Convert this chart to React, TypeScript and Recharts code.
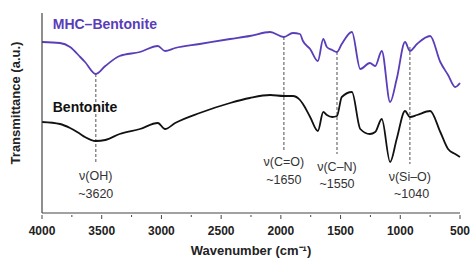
import {
  LineChart,
  Line,
  XAxis,
  YAxis,
  ReferenceLine,
  ReferenceDot,
} from "recharts";

const wavenumber = [
  4000, 3850, 3765, 3680, 3640, 3550, 3470, 3350, 3180, 3030, 2970, 2885,
  2680, 2425, 2260, 2090, 1975, 1900, 1840, 1815, 1755, 1690, 1645, 1615,
  1570, 1530, 1490, 1405, 1335, 1255, 1210, 1155, 1085, 1030, 960, 920, 860,
  750, 665, 600, 540, 500,
];

// transmittance (a.u.)
const mhcBentonite = [
  171, 170, 166, 156, 151, 139, 147, 157, 161, 167, 162, 165, 169, 174, 177,
  181, 176, 180, 179, 172, 164, 152, 174, 166, 163, 161, 169, 181, 144, 150,
  147, 162, 111, 134, 171, 162, 169, 177, 151, 138, 126, 130,
];

const bentonite = [
  91, 89, 85, 79, 76, 72, 73, 79, 84, 90, 84, 90, 100, 110, 115, 118, 117,
  117, 113, 109, 96, 82, 101, 98, 96, 97, 116, 121, 84, 79, 81, 94, 51, 74,
  102, 96, 98, 102, 81, 64, 59, 56,
];

const xTicks = [
  4000, 3750, 3500, 3250, 3000, 2750, 2500, 2250, 2000, 1750, 1500, 1250,
  1000, 750, 500,
];

// assigned bands
const bandWavenumber = [3550, 1975, 1530, 920];
const bandName = ["ν(OH)", "ν(C=O)", "ν(C–N)", "ν(Si–O)"];
const bandValue = ["~3620", "~1650", "~1550", "~1040"];

// layout of the dashed markers and their labels (y in a.u.)
const bandLayout = [
  { top: 139, bottom: 49, nameY: 37, valueY: 19, valueX: 3550 },
  { top: 176, bottom: 62, nameY: 51, valueY: 33, valueX: 1975 },
  { top: 161, bottom: 59, nameY: 46, valueY: 29, valueX: 1530 },
  { top: 166, bottom: 49, nameY: 36, valueY: 19, valueX: 905 },
];

const PURPLE = "#5A3DB8";
const FONT = "'Liberation Sans', Arial, sans-serif";

const data = wavenumber.map((wn, i) => ({
  wn,
  mhc: mhcBentonite[i],
  ben: bentonite[i],
}));

const textLabel =
  (text: string, opts: { size: number; weight?: string; fill: string; anchor?: string }) =>
  (props: any) => {
    const vb = props.viewBox || {};
    return (
      <text
        x={vb.x}
        y={vb.y}
        textAnchor={opts.anchor || "middle"}
        dominantBaseline="central"
        fontSize={opts.size}
        fontWeight={opts.weight || "normal"}
        fill={opts.fill}
        fontFamily={FONT}
      >
        {text}
      </text>
    );
  };

const WaveTick = (props: any) => {
  const { x, y, payload } = props;
  const major = payload.value % 500 === 0;
  return (
    <g>
      <line x1={x} x2={x} y1={y} y2={y + (major ? 4 : 2)} stroke="#444" strokeWidth={1} />
      {major && (
        <text
          x={x}
          y={y + 16}
          textAnchor="middle"
          dominantBaseline="central"
          fontSize={12}
          fontWeight="bold"
          fill="#222"
          fontFamily={FONT}
        >
          {payload.value}
        </text>
      )}
    </g>
  );
};

const YTitle = (props: any) => {
  const vb = props.viewBox || {};
  const cx = vb.x + 3;
  const cy = vb.y + 90;
  return (
    <text
      x={cx}
      y={cy}
      transform={`rotate(-90, ${cx}, ${cy})`}
      textAnchor="middle"
      dominantBaseline="central"
      fontSize={13}
      fontWeight="bold"
      fill="#222"
      fontFamily={FONT}
    >
      Transmittance (a.u.)
    </text>
  );
};

export default function App() {
  return (
    <div
      style={{
        position: "absolute",
        left: 0,
        top: 0,
        background: "#fff",
        width: 472,
        height: 264,
      }}
    >
      <LineChart
        width={472}
        height={264}
        data={data}
        margin={{ top: 13, right: 12, bottom: 0, left: 12 }}
        style={{ overflow: "visible" }}
      >
        <XAxis
          dataKey="wn"
          type="number"
          domain={[500, 4000]}
          reversed
          ticks={xTicks}
          interval={0}
          tickSize={0}
          tickLine={false}
          tick={<WaveTick />}
          axisLine={{ stroke: "#444", strokeWidth: 1.2 }}
          height={51}
          label={{
            value: "Wavenumber (cm⁻¹)",
            position: "insideBottom",
            offset: 9,
            fontSize: 13,
            fontWeight: "bold",
            fill: "#222",
            fontFamily: FONT,
          }}
        />
        <YAxis
          type="number"
          domain={[0, 200]}
          width={30}
          tick={false}
          tickLine={false}
          axisLine={{ stroke: "#444", strokeWidth: 1.2 }}
          label={<YTitle />}
        />

        {bandWavenumber.map((wn, i) => (
          <ReferenceLine
            key={"band" + i}
            segment={[
              { x: wn, y: bandLayout[i].top },
              { x: wn, y: bandLayout[i].bottom },
            ]}
            stroke="#8a8a8a"
            strokeWidth={1.5}
            strokeDasharray="3 2"
          />
        ))}

        <Line
          dataKey="mhc"
          type="monotone"
          stroke={PURPLE}
          strokeWidth={1.8}
          dot={false}
          isAnimationActive={false}
        />
        <Line
          dataKey="ben"
          type="monotone"
          stroke="#111"
          strokeWidth={1.8}
          dot={false}
          isAnimationActive={false}
        />

        <ReferenceDot
          x={3910}
          y={189}
          r={0}
          fill="none"
          stroke="none"
          label={textLabel("MHC–Bentonite", { size: 14, weight: "bold", fill: PURPLE, anchor: "start" })}
        />
        <ReferenceDot
          x={3910}
          y={106}
          r={0}
          fill="none"
          stroke="none"
          label={textLabel("Bentonite", { size: 14, weight: "bold", fill: "#111", anchor: "start" })}
        />

        {bandWavenumber.map((wn, i) => (
          <ReferenceDot
            key={"name" + i}
            x={wn}
            y={bandLayout[i].nameY}
            r={0}
            fill="none"
            stroke="none"
            label={textLabel(bandName[i], { size: 12.5, fill: "#333" })}
          />
        ))}
        {bandWavenumber.map((wn, i) => (
          <ReferenceDot
            key={"val" + i}
            x={bandLayout[i].valueX}
            y={bandLayout[i].valueY}
            r={0}
            fill="none"
            stroke="none"
            label={textLabel(bandValue[i], { size: 12.5, fill: "#333" })}
          />
        ))}
      </LineChart>
    </div>
  );
}
